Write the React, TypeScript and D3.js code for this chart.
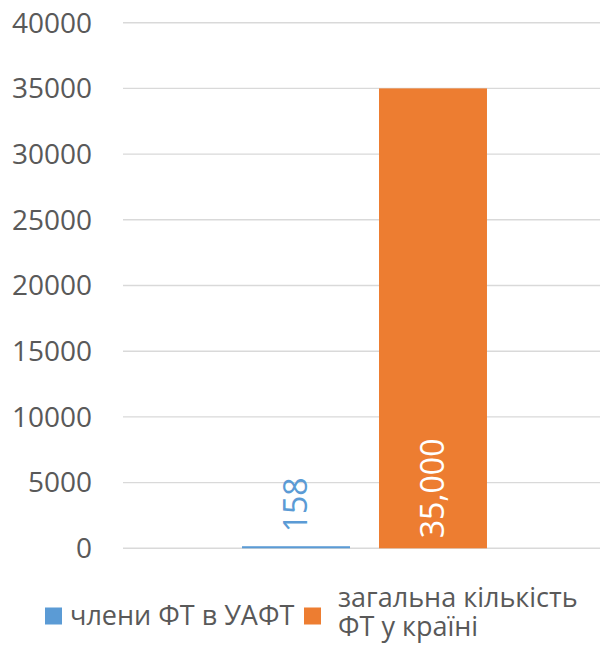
import React, { useEffect, useRef } from "react";
import * as d3 from "d3";

const categories: string[] = [""];
const seriesNames: string[] = ["члени ФТ в УАФТ", "загальна кількість ФТ у країні"];
const legendLines: string[][] = [["члени ФТ в УАФТ"], ["загальна кількість", "ФТ у країні"]];
const seriesValues: number[] = [158, 35000];
const dataLabels: string[] = ["158", "35,000"];
const yTicks: number[] = [0, 5000, 10000, 15000, 20000, 25000, 30000, 35000, 40000];

const colors = ["#5B9BD5", "#ED7D31"];
const labelColors = ["#5B9BD5", "#FFFFFF"];

const App: React.FC = () => {
  const svgRef = useRef<SVGSVGElement | null>(null);

  useEffect(() => {
    if (!svgRef.current) return;

    const width = 600;
    const height = 645;
    const plot = { left: 123, right: 606, top: 22.7, bottom: 548.3 };
    const font = "'Open Sans', 'Noto Sans', sans-serif";

    const svg = d3.select(svgRef.current);
    svg.selectAll("*").remove();
    svg.attr("width", width).attr("height", height);

    const y = d3.scaleLinear().domain([0, 40000]).range([plot.bottom, plot.top]);

    const x0 = d3
      .scaleBand()
      .domain(categories)
      .range([plot.left, plot.right])
      .paddingInner(0.327)
      .paddingOuter(0.327);

    const x1 = d3
      .scaleBand()
      .domain(seriesNames)
      .range([0, x0.bandwidth()])
      .paddingInner(0.2117);

    // gridlines
    svg
      .append("g")
      .selectAll("line")
      .data(yTicks)
      .enter()
      .append("line")
      .attr("x1", plot.left)
      .attr("x2", width)
      .attr("y1", (d) => y(d))
      .attr("y2", (d) => y(d))
      .attr("stroke", "#D9D9D9")
      .attr("stroke-width", 1.4);

    // y tick labels
    svg
      .append("g")
      .selectAll("text")
      .data(yTicks)
      .enter()
      .append("text")
      .attr("x", 92)
      .attr("y", (d) => y(d))
      .attr("dy", "0.35em")
      .attr("text-anchor", "end")
      .attr("font-family", font)
      .attr("font-size", 28)
      .attr("fill", "#595959")
      .text((d) => String(d));

    // bars
    const group = svg
      .append("g")
      .attr("transform", `translate(${x0(categories[0])}, 0)`);

    group
      .selectAll("rect")
      .data(seriesValues)
      .enter()
      .append("rect")
      .attr("x", (_, i) => x1(seriesNames[i])!)
      .attr("y", (d) => y(d))
      .attr("width", x1.bandwidth())
      .attr("height", (d) => plot.bottom - y(d))
      .attr("fill", (_, i) => colors[i]);

    // data labels (rotated)
    group
      .selectAll("text")
      .data(seriesValues)
      .enter()
      .append("text")
      .attr("transform", (d, i) => {
        const cx = x1(seriesNames[i])! + x1.bandwidth() / 2;
        // small value sits above its bar, the big one inside the base
        const start = i === 0 ? y(d) - 14 : plot.bottom - 10;
        return `translate(${cx}, ${start}) rotate(-90)`;
      })
      .attr("dy", "0.35em")
      .attr("text-anchor", "start")
      .attr("font-family", font)
      .attr("font-size", 32)
      .attr("fill", (_, i) => labelColors[i])
      .text((_, i) => dataLabels[i]);

    // legend
    const legend = svg.append("g").attr("font-family", font).attr("font-size", 27).attr("fill", "#595959");
    const items = [
      { sx: 45, tx: 70, baseline: 625 },
      { sx: 304, tx: 338, baseline: 606.5 },
    ];
    items.forEach((it, i) => {
      legend.append("rect").attr("x", it.sx).attr("y", 607.5).attr("width", 17).attr("height", 17).attr("fill", colors[i]);
      legendLines[i].forEach((line, j) => {
        legend
          .append("text")
          .attr("x", it.tx)
          .attr("y", it.baseline + j * 29.5)
          .text(line);
      });
    });
  }, []);

  return <svg ref={svgRef} style={{ position: "absolute", left: 0, top: 0, background: "#fff" }}></svg>;
};

export default App;
